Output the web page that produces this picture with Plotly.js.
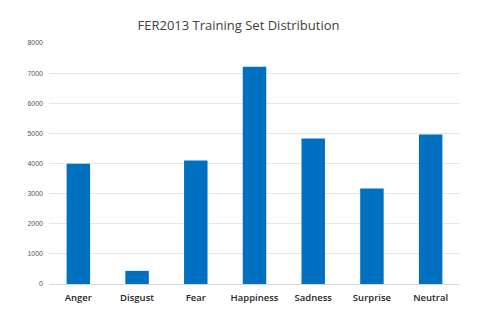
<!DOCTYPE html>
<html><head><meta charset="utf-8">
<script src="https://cdn.plot.ly/plotly-3.0.1.min.js"></script>
<style>html,body{margin:0;padding:0;background:#fff;}#chart{width:477px;height:311px;}</style>
</head><body><div id="chart"></div>
<script>
const categories = ["Anger","Disgust","Fear","Happiness","Sadness","Surprise","Neutral"];
const counts = [3995, 436, 4097, 7215, 4830, 3171, 4965];
const yTicks = [0,1000,2000,3000,4000,5000,6000,7000,8000];

Plotly.newPlot('chart', [{
  type: 'bar', x: categories, y: counts,
  marker: {color: '#0070C0'}, hoverinfo: 'none'
}], {
  width: 477, height: 311,
  margin: {l: 49, r: 17, t: 43, b: 27},
  paper_bgcolor: '#fff', plot_bgcolor: '#fff',
  bargap: 0.6,
  title: {text: 'FER2013 Training Set Distribution', x: 0.5, xanchor: 'center', y: 0.918, yanchor: 'middle',
    font: {family: 'Open Sans, sans-serif', size: 13, color: '#404040'}},
  xaxis: {tickfont: {family: 'Open Sans, sans-serif', size: 9.5, color: '#262626', weight: 600}, showline: true, linecolor: '#d9d9d9', ticks: '', ticklabelstandoff: 5, fixedrange: true},
  yaxis: {range: [0, 8000], tickvals: yTicks, ticktext: yTicks.map(String), showgrid: true, gridcolor: '#e6e6e6',
    zeroline: false, tickfont: {family: 'Liberation Sans, sans-serif', size: 7, color: '#555'}, ticks: '', ticklen: 0, ticklabelstandoff: 5, automargin: false},
  showlegend: false
}, {displayModeBar: false, staticPlot: true});
</script></body></html>
